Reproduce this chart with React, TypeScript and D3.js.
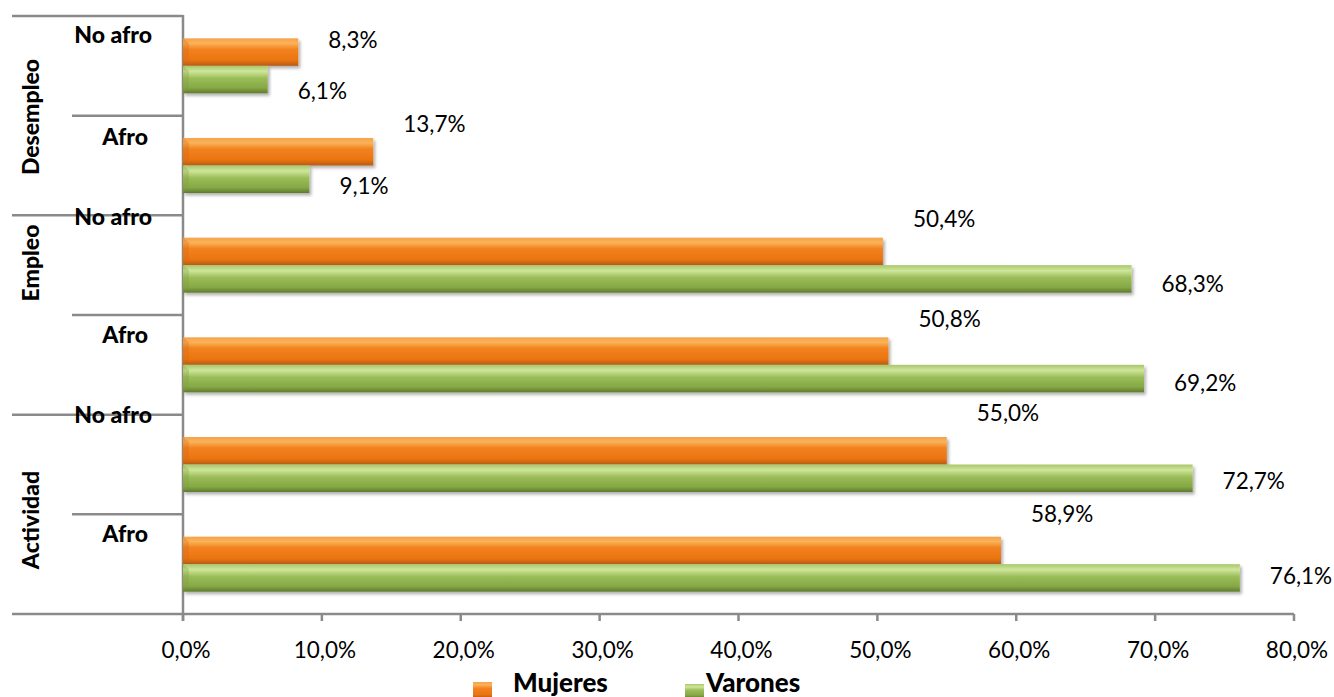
import React from "react";
import * as d3 from "d3";

const groups = ["Desempleo", "Desempleo", "Empleo", "Empleo", "Actividad", "Actividad"];
const subgroups = ["No afro", "Afro", "No afro", "Afro", "No afro", "Afro"];
const groupNames = ["Desempleo", "Empleo", "Actividad"];
const mujeres = [8.3, 13.7, 50.4, 50.8, 55.0, 58.9];
const varones = [6.1, 9.1, 68.3, 69.2, 72.7, 76.1];
const xTicks = [0, 10, 20, 30, 40, 50, 60, 70, 80];
const seriesNames = ["Mujeres", "Varones"];

const W = 1334;
const H = 697;
const left = 183;
const right = 1294;
const top = 16;
const bottom = 614;
const FONT = "Lato, 'Open Sans', sans-serif";
const AXIS = "#8a8a8a";

// layout tweaks (pixel offsets, not data)
const subLabelDy = [27, 29, 10, 28, 8, 28];
const mujLabelDy = [-12, -28, -33, -32, -38, -37];
const varLabelDy = [11, 7, 5, 4, 3, -2];
const groupLabelY: Record<string, number> = { Desempleo: 117, Empleo: 263, Actividad: 520 };

const fmt = (v: number) => v.toFixed(1).replace(".", ",") + "%";

export default function App() {
  const ids = groups.map((g, i) => `${i}`);
  const x = d3.scaleLinear().domain([0, 80]).range([left, right]);
  const y = d3.scaleBand<string>().domain(ids).range([top, bottom]).padding(0);
  const step = y.step();
  const barH = 27.5;
  const inner = d3
    .scaleBand<string>()
    .domain(seriesNames)
    .range([step / 2 - barH, step / 2 + barH])
    .padding(0);

  const bars = (vals: number[], s: string, fill: string) =>
    vals.map((v, i) => {
      const by = (y(ids[i]) as number) + (inner(s) as number);
      const bw = x(v) - x(0);
      const bh = inner.bandwidth();
      return (
        <g key={s + i} filter="url(#shadow)">
          <rect x={x(0)} y={by} width={bw} height={bh} fill={`url(#${fill})`} />
          <polygon
            points={`${x(0)},${by} ${x(0) + 6},${by + 5} ${x(0) + 6},${by + bh - 5} ${x(0)},${by + bh}`}
            fill={fill === "gOr" ? "#d8670f" : "#7d9c3c"}
            opacity={0.3}
          />
        </g>
      );
    });

  return (
    <svg
      width={W}
      height={H}
      style={{ position: "absolute", left: 0, top: 0, background: "#fff" }}
      fontFamily={FONT}
    >
      <defs>
        <linearGradient id="gOr" x1="0" y1="0" x2="0" y2="1">
          <stop offset="0" stopColor="#f5a24c" />
          <stop offset="0.18" stopColor="#fbb257" />
          <stop offset="0.4" stopColor="#f2821f" />
          <stop offset="0.8" stopColor="#ea7410" />
          <stop offset="1" stopColor="#b65a14" />
        </linearGradient>
        <linearGradient id="gGr" x1="0" y1="0" x2="0" y2="1">
          <stop offset="0" stopColor="#a9c66b" />
          <stop offset="0.2" stopColor="#cfe69a" />
          <stop offset="0.45" stopColor="#9bbd59" />
          <stop offset="0.8" stopColor="#86a845" />
          <stop offset="1" stopColor="#5f7b2d" />
        </linearGradient>
        <filter id="shadow" x="-5%" y="-30%" width="110%" height="170%">
          <feDropShadow dx="2" dy="2.5" stdDeviation="1.8" floodColor="#000" floodOpacity="0.3" />
        </filter>
      </defs>

      {/* category separators */}
      {ids.map((id, i) => {
        const yy = y(id) as number;
        const isGroupStart = i % 2 === 0;
        return (
          <line
            key={"sep" + i}
            x1={isGroupStart ? 12 : 72}
            x2={left}
            y1={yy}
            y2={yy}
            stroke={AXIS}
            strokeWidth={2.5}
          />
        );
      })}
      <line x1={12} x2={right} y1={bottom} y2={bottom} stroke={AXIS} strokeWidth={2.5} />
      <line x1={left} x2={left} y1={top - 1} y2={bottom + 7} stroke={AXIS} strokeWidth={2.5} />
      {xTicks.map((t) => (
        <line key={"t" + t} x1={x(t)} x2={x(t)} y1={bottom} y2={bottom + 7} stroke={AXIS} strokeWidth={2.5} />
      ))}
      {xTicks.map((t) => (
        <text key={"tl" + t} x={x(t) + 3} y={658} textAnchor="middle" fontSize={22.5} fill="#000">
          {fmt(t)}
        </text>
      ))}

      {bars(mujeres, "Mujeres", "gOr")}
      {bars(varones, "Varones", "gGr")}

      {mujeres.map((v, i) => {
        const cy = (y(ids[i]) as number) + (inner("Mujeres") as number) + inner.bandwidth() / 2 + mujLabelDy[i];
        return (
          <text key={"ml" + i} x={x(v) + 30} y={cy} dy="0.36em" fontSize={22.5} fill="#000">
            {fmt(v)}
          </text>
        );
      })}
      {varones.map((v, i) => {
        const cy = (y(ids[i]) as number) + (inner("Varones") as number) + inner.bandwidth() / 2 + varLabelDy[i];
        return (
          <text key={"vl" + i} x={x(v) + 30} y={cy} dy="0.36em" fontSize={22.5} fill="#000">
            {fmt(v)}
          </text>
        );
      })}

      {subgroups.map((s, i) => (
        <text
          key={"sl" + i}
          x={s === "Afro" ? 148 : 152}
          y={(y(ids[i]) as number) + subLabelDy[i]}
          textAnchor="end"
          fontSize={23}
          fontWeight="900"
          fill="#000"
        >
          {s}
        </text>
      ))}

      {groupNames.map((g) => (
        <text
          key={"g" + g}
          transform={`translate(39,${groupLabelY[g]}) rotate(-90)`}
          textAnchor="middle"
          fontSize={23}
          fontWeight="900"
          fill="#000"
        >
          {g}
        </text>
      ))}

      {/* legend */}
      <g>
        <rect x={473} y={682} width={19} height={16} fill="url(#gOr)" />
        <text x={513} y={692} fontSize={26} fontWeight="900" fill="#000">
          {seriesNames[0]}
        </text>
        <rect x={685} y={684} width={19} height={14} fill="url(#gGr)" />
        <text x={706} y={692} fontSize={26} fontWeight="900" fill="#000">
          {seriesNames[1]}
        </text>
      </g>
    </svg>
  );
}
